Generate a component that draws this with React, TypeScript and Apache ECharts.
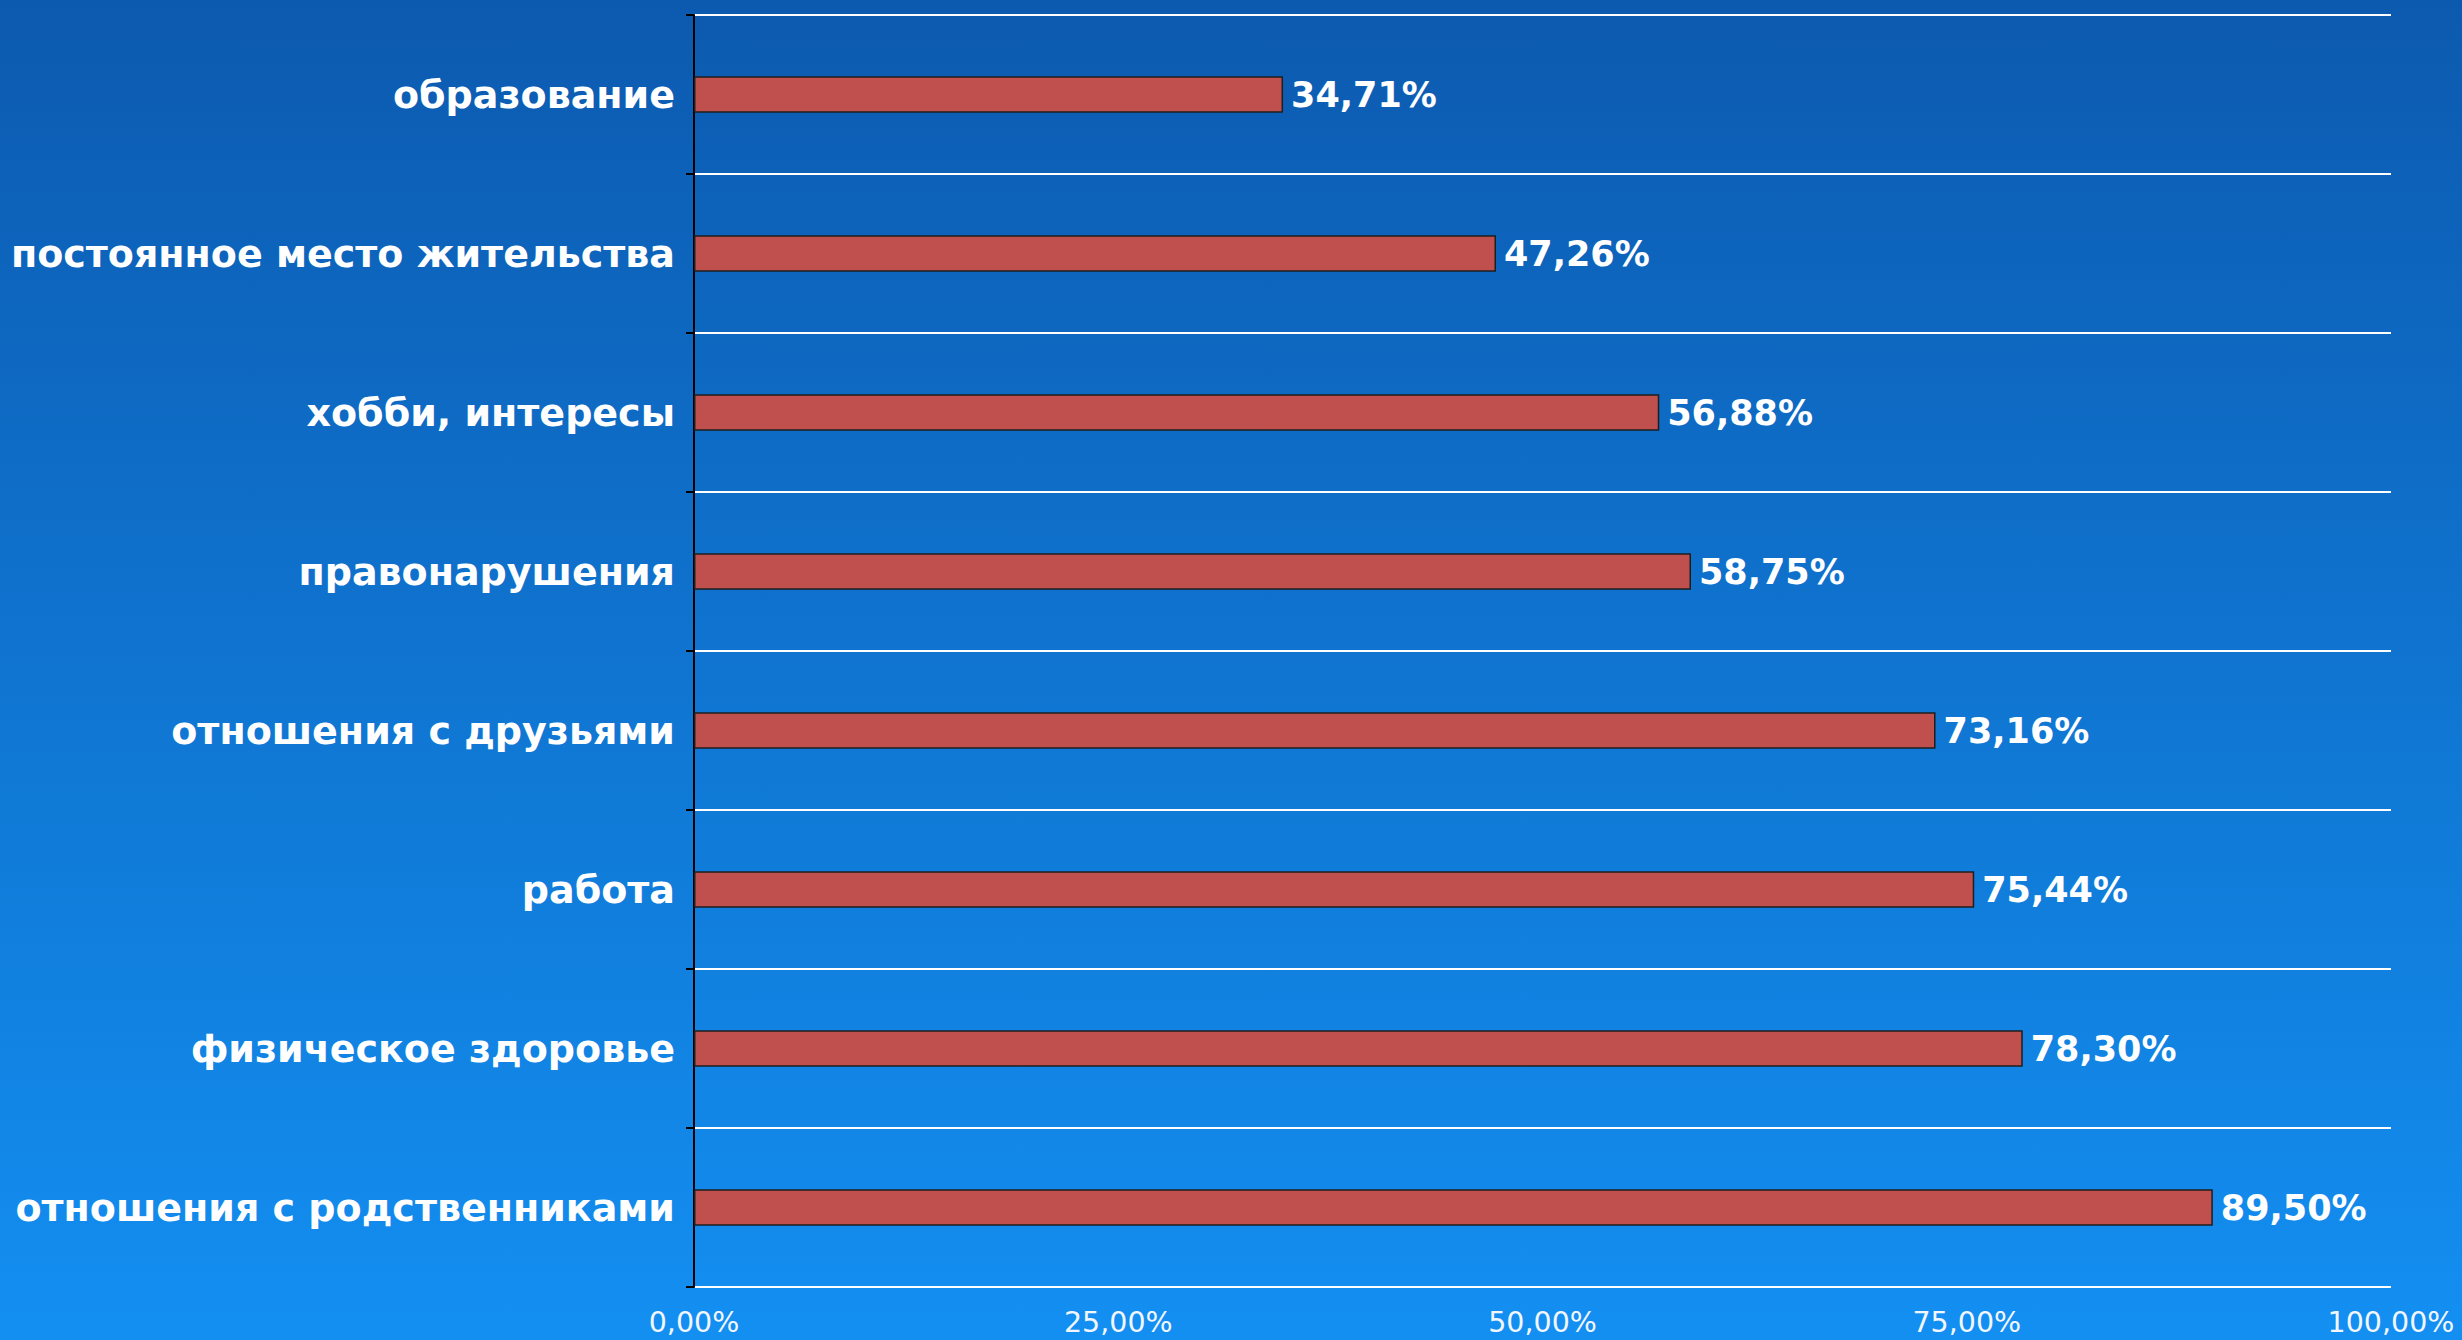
import React, { useEffect, useRef } from "react";
import * as echarts from "echarts";

const categories = [
  "образование",
  "постоянное место жительства",
  "хобби, интересы",
  "правонарушения",
  "отношения с друзьями",
  "работа",
  "физическое здоровье",
  "отношения с родственниками",
];
const values = [34.71, 47.26, 56.88, 58.75, 73.16, 75.44, 78.3, 89.5];
const xTicks = { min: 0, max: 100, interval: 25 };

const fmt = (v: number) => v.toFixed(2).replace(".", ",") + "%";

export default function App() {
  const ref = useRef<HTMLDivElement>(null);
  useEffect(() => {
    if (!ref.current) return;
    const chart = echarts.init(ref.current, undefined, { renderer: "svg" });
    chart.setOption({
      animation: false,
      backgroundColor: new echarts.graphic.LinearGradient(0, 0, 0, 1, [
        { offset: 0, color: "#0C5AAF" },
        { offset: 1, color: "#138FF2" },
      ]),
      textStyle: { fontFamily: "DejaVu Sans" },
      grid: { left: 694, right: 71, top: 15, bottom: 53, containLabel: false },
      xAxis: {
        type: "value",
        min: xTicks.min,
        max: xTicks.max,
        interval: xTicks.interval,
        axisLine: { show: false },
        axisTick: { show: false },
        splitLine: { show: false },
        axisLabel: {
          color: "#F2F6FF",
          fontSize: 28.5,
          fontFamily: "DejaVu Sans",
          margin: 21,
          formatter: (v: number) => fmt(v),
        },
      },
      yAxis: {
        type: "category",
        data: categories,
        inverse: true,
        axisLine: { show: true, lineStyle: { color: "#000000", width: 2 } },
        axisTick: { show: true, length: 8, lineStyle: { color: "#000000", width: 2 } },
        splitLine: { show: true, lineStyle: { color: "#FFFFFF", width: 2 } },
        axisLabel: {
          color: "#FFFFFF",
          fontSize: 38,
          fontWeight: "bold",
          fontFamily: "DejaVu Sans",
          margin: 19,
        },
      },
      series: [
        {
          type: "bar",
          data: values,
          barWidth: "23%",
          itemStyle: { color: "#C0504D", borderColor: "#1E1E1E", borderWidth: 1.5 },
          label: {
            show: true,
            position: "right",
            distance: 8,
            color: "#FFFFFF",
            fontSize: 35,
            fontWeight: "bold",
            fontFamily: "DejaVu Sans",
            formatter: (p: any) => fmt(p.value),
          },
        },
      ],
    });
    return () => chart.dispose();
  }, []);
  return (
    <div
      ref={ref}
      style={{ position: "fixed", left: 0, top: 0, width: 2462, height: 1340 }}
    />
  );
}
